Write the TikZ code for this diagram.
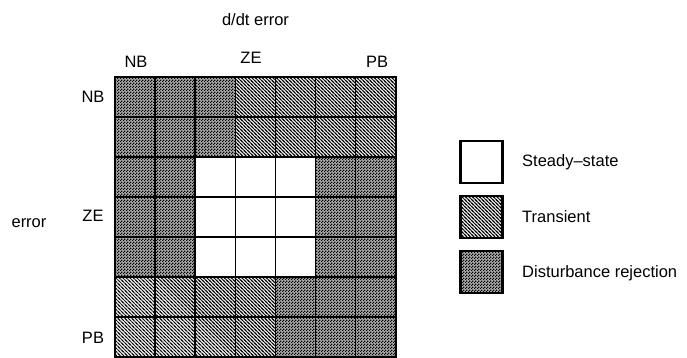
\documentclass[tikz,border=0pt]{standalone}
\usepackage{fontspec}
\setmainfont{Liberation Sans}
\usetikzlibrary{patterns}
\pgfdeclarepatternformonly{mycheck}{\pgfqpoint{0pt}{0pt}}{\pgfqpoint{3pt}{3pt}}{\pgfqpoint{3pt}{3pt}}{%
  \pgfpathrectangle{\pgfqpoint{0pt}{0pt}}{\pgfqpoint{1.5pt}{1.5pt}}%
  \pgfpathrectangle{\pgfqpoint{1.5pt}{1.5pt}}{\pgfqpoint{1.5pt}{1.5pt}}%
  \pgfusepath{fill}}
\pgfdeclarepatternformonly{myhatch}{\pgfqpoint{-1pt}{-1pt}}{\pgfqpoint{4.5pt}{4.5pt}}{\pgfqpoint{3.5pt}{3.5pt}}{%
  \pgfsetlinewidth{0.7pt}%
  \pgfpathmoveto{\pgfqpoint{0pt}{3.5pt}}\pgfpathlineto{\pgfqpoint{3.5pt}{0pt}}%
  \pgfpathmoveto{\pgfqpoint{-1pt}{1pt}}\pgfpathlineto{\pgfqpoint{1pt}{-1pt}}%
  \pgfpathmoveto{\pgfqpoint{2.5pt}{4.5pt}}\pgfpathlineto{\pgfqpoint{4.5pt}{2.5pt}}%
  \pgfusepath{stroke}}
\tikzset{
  lbl/.style={inner sep=0pt, font=\fontsize{16.5}{19}\selectfont},
  cellW/.style={fill=white, draw=black, line width=1.6pt},
  cellT/.style={preaction={fill=gray!20}, pattern=myhatch, draw=black, line width=1.6pt},
  cellD/.style={preaction={fill=gray!65}, pattern=mycheck, draw=black, line width=1.6pt},
  legbox/.style={draw=black, line width=2.2pt, minimum width=42pt, minimum height=42pt, inner sep=0pt}
}
\begin{document}
\begin{tikzpicture}[x=1pt,y=-1pt]
\useasboundingbox (0,0) rectangle (687,358);
% cells
\foreach \r/\types in {0/{D,D,D,T,T,T,T},1/{D,D,D,T,T,T,T},2/{D,D,W,W,W,D,D},3/{D,D,W,W,W,D,D},4/{D,D,W,W,W,D,D},5/{T,T,T,T,D,D,D},6/{T,T,T,T,D,D,D}}{
  \foreach \t [count=\c from 0] in \types {
    \pgfmathsetmacro{\cx}{115+40.1*\c}
    \pgfmathsetmacro{\cy}{77+40*\r}
    \path[cell\t] (\cx,\cy) rectangle ++(40.1,40);
  }
}
\draw[line width=1.8pt] (115,77) rectangle (395.7,357);
% axis labels
\node[lbl] (ddt) at (255.5,20) {d/dt error};
\node[lbl] (cNB) at (136,62) {NB};
\node[lbl] (cZE) at (251,58) {ZE};
\node[lbl] (cPB) at (377,62) {PB};
\node[lbl] (rNB) at (93,97) {NB};
\node[lbl] (rZE) at (93,216) {ZE};
\node[lbl] (rPB) at (93,338) {PB};
\node[lbl] (err) at (29,223) {error};
% legend
\node[legbox, fill=white, line width=2.6pt] (l1) at (481.5,162) {};
\node[legbox, preaction={fill=gray!20}, pattern=myhatch] (l2) at (481.5,217) {};
\node[legbox, preaction={fill=gray!65}, pattern=mycheck] (l3) at (481.5,272) {};
\node[lbl, anchor=west] (t1) at (522,162) {Steady--state};
\node[lbl, anchor=west] (t2) at (522,217) {Transient};
\node[lbl, anchor=west] (t3) at (522,273) {Disturbance rejection};
\end{tikzpicture}
\end{document}
